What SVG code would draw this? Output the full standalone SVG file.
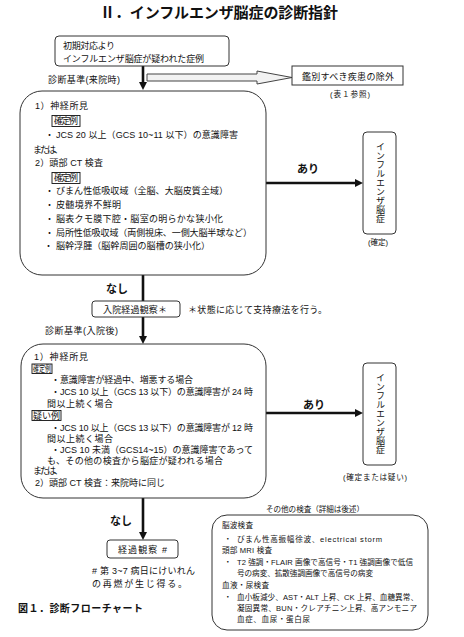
<svg xmlns="http://www.w3.org/2000/svg" width="464" height="637" viewBox="0 0 464 637">
<style>
text{font-family:"Liberation Sans","Noto Sans CJK JP",sans-serif;fill:#111;}
.t{font-size:9px;}
.s{font-size:7.6px;}
.b{font-weight:bold;}
.box{fill:#fff;stroke:#333;stroke-width:1;}
.lbl{fill:none;stroke:#111;stroke-width:0.9;}
.ln{stroke:#111;stroke-width:2.6;fill:none;}
.v{font-size:9px;writing-mode:vertical-rl;}
</style>
<defs>
<marker id="ah" viewBox="0 0 8 8" refX="1" refY="4" markerWidth="8" markerHeight="8" markerUnits="userSpaceOnUse" orient="auto">
<path d="M0,0 L8,4 L0,8 z" fill="#111"/>
</marker>
</defs>
<rect width="464" height="637" fill="#fff"/>

<text x="219" y="18" font-size="15" class="b" text-anchor="middle" textLength="238">Ⅱ．インフルエンザ脳症の診断指針</text>

<g id="connectors">
<line class="ln" x1="143" y1="66" x2="143" y2="83" marker-end="url(#ah)"/>
<polygon points="147,74 257,74 257,71 292,77.5 257,84 257,81 147,81" fill="#f2f2f2" stroke="#444" stroke-width="1"/>
<line class="ln" x1="266" y1="183" x2="356" y2="183" marker-end="url(#ah)"/>
<line class="ln" x1="143" y1="275" x2="143" y2="301"/>
<line class="ln" x1="143" y1="317" x2="143" y2="337" marker-end="url(#ah)"/>
<line class="ln" x1="266" y1="413" x2="356" y2="413" marker-end="url(#ah)"/>
<line class="ln" x1="143" y1="498" x2="143" y2="533" marker-end="url(#ah)"/>
<text x="297" y="173" font-size="11" class="b">あり</text>
<text x="303" y="409" font-size="11" class="b">あり</text>
<text x="106" y="293" font-size="11" class="b">なし</text>
<text x="110" y="525" font-size="11" class="b">なし</text>
<text x="48" y="83" class="t" textLength="72">診断基準(来院時)</text>
<text x="45" y="334" class="t" textLength="73">診断基準(入院後)</text>
</g>

<g id="start">
<rect class="box" x="55" y="36" width="174" height="30" rx="4"/>
<text x="63" y="49" class="t" textLength="52">初期対応より</text>
<text x="63" y="62" class="t" textLength="141">インフルエンザ脳症が疑われた症例</text>
</g>

<g id="exclude">
<rect class="box" x="292" y="66" width="111" height="19"/>
<text x="302" y="80" class="t" textLength="92">鑑別すべき疾患の除外</text>
<text x="350" y="97" class="s" text-anchor="middle" textLength="40">(表１参照)</text>
</g>

<g id="criteria1">
<rect class="box" x="20" y="91" width="246" height="184" rx="22"/>
<text x="35" y="109" class="t" textLength="53">1）神経所見</text>
<rect class="lbl" x="52" y="115.5" width="28" height="11"/>
<text x="54" y="124" class="t" textLength="24">確定例</text>
<text x="45" y="138" class="t">・</text>
<text x="56" y="138" class="t" textLength="182">JCS 20 以上（GCS 10~11 以下）の意識障害</text>
<text x="33" y="153" class="t" textLength="30">または、</text>
<text x="35" y="166" class="t" textLength="68">2）頭部 CT 検査</text>
<rect class="lbl" x="52" y="172.5" width="28" height="11"/>
<text x="54" y="181" class="t" textLength="24">確定例</text>
<text x="45" y="194" class="t">・</text>
<text x="56" y="194" class="t" textLength="172">びまん性低吸収域（全脳、大脳皮質全域）</text>
<text x="45" y="208" class="t">・</text>
<text x="56" y="208" class="t" textLength="65">皮髄境界不鮮明</text>
<text x="45" y="222" class="t">・</text>
<text x="56" y="222" class="t" textLength="167">脳表クモ膜下腔・脳室の明らかな狭小化</text>
<text x="45" y="236" class="t">・</text>
<text x="56" y="236" class="t" textLength="196">局所性低吸収域（両側視床、一側大脳半球など）</text>
<text x="44" y="249" class="t">・</text>
<text x="56" y="249" class="t" textLength="154">脳幹浮腫（脳幹周囲の脳槽の狭小化）</text>
</g>

<g id="result1">
<rect class="box" x="363" y="132" width="33" height="102" rx="4"/>
<text x="380" y="142" class="v">インフルエンザ脳症</text>
<text x="378" y="245" class="s" text-anchor="middle">(確定)</text>
</g>

<g id="observe1">
<rect class="box" x="92" y="301" width="88" height="16" rx="3"/>
<text x="103" y="313" class="t" textLength="64">入院経過観察＊</text>
<text x="188" y="313" class="t" textLength="139">＊状態に応じて支持療法を行う。</text>
</g>

<g id="criteria2">
<rect class="box" x="21" y="344" width="245" height="154" rx="22"/>
<text x="34" y="360" class="t" textLength="54">1）神経所見</text>
<rect class="lbl" x="32" y="364" width="20" height="9.5"/>
<text x="33" y="372" class="t" textLength="18" lengthAdjust="spacingAndGlyphs">確定例</text>
<text x="51" y="383" class="t">・</text>
<text x="60" y="383" class="t" textLength="133">意識障害が経過中、増悪する場合</text>
<text x="51" y="395" class="t">・</text>
<text x="60" y="395" class="t" textLength="193">JCS 10 以上（GCS 13 以下）の意識障害が 24 時</text>
<text x="47" y="407" class="t" textLength="66">間以上続く場合</text>
<rect class="lbl" x="32" y="410.5" width="29" height="10"/>
<text x="33" y="419" class="t" textLength="27">疑い例</text>
<text x="51" y="431" class="t">・</text>
<text x="60" y="431" class="t" textLength="193">JCS 10 以上（GCS 13 以下）の意識障害が 12 時</text>
<text x="47" y="442" class="t" textLength="66">間以上続く場合</text>
<text x="51" y="453" class="t">・</text>
<text x="60" y="453" class="t" textLength="193">JCS 10 未満（GCS14~15）の意識障害であって</text>
<text x="47" y="464" class="t" textLength="176">も、その他の検査から脳症が疑われる場合</text>
<text x="33" y="474" class="t" textLength="30">または、</text>
<text x="35" y="486" class="t" textLength="130">2）頭部 CT 検査：来院時に同じ</text>
</g>

<g id="result2">
<rect class="box" x="363" y="363" width="33" height="102" rx="4"/>
<text x="380" y="373" class="v">インフルエンザ脳症</text>
<text x="375" y="480" class="s" text-anchor="middle" textLength="64">(確定または疑い)</text>
</g>

<g id="observe2">
<rect class="box" x="107" y="540" width="71" height="18" rx="3"/>
<text x="118" y="553" class="t" textLength="49">経過観察 #</text>
<text x="92" y="574" class="t" textLength="103"># 第 3~7 病日にけいれん</text>
<text x="92" y="587" class="t" textLength="95">の再燃が生じ得る。</text>
</g>

<g id="other">
<text x="266" y="512" class="s" textLength="98">その他の検査（詳細は後述）</text>
<rect class="box" x="212" y="515" width="216" height="115" rx="15"/>
<text x="222" y="528" class="s" textLength="31">脳波検査</text>
<text x="224" y="542" class="s">・</text>
<text x="237" y="542" class="s" textLength="145">びまん性高振幅徐波、electrical storm</text>
<text x="222" y="553" class="s" textLength="50">頭部 MRI 検査</text>
<text x="224" y="565" class="s">・</text>
<text x="237" y="565" class="s" textLength="176">T2 強調・FLAIR 画像で高信号・T1 強調画像で低信</text>
<text x="237" y="576" class="s" textLength="136">号の病変、拡散強調画像で高信号の病変</text>
<text x="222" y="588" class="s" textLength="47">血液・尿検査</text>
<text x="224" y="600" class="s">・</text>
<text x="237" y="600" class="s" textLength="181">血小板減少、AST・ALT 上昇、CK 上昇、血糖異常、</text>
<text x="237" y="611" class="s" textLength="180">凝固異常、BUN・クレアチニン上昇、高アンモニア</text>
<text x="237" y="622" class="s" textLength="73">血症、血尿・蛋白尿</text>
</g>

<text x="18" y="612" font-size="10" class="b" textLength="125">図１．診断フローチャート</text>
</svg>
